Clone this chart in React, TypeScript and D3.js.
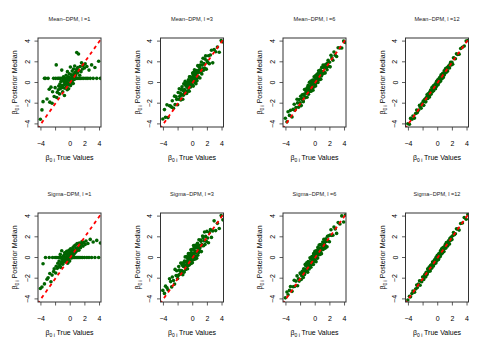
import React from 'react';
import * as d3 from 'd3';

// true beta_0i values (shared by all panels)
const trueValues = [
  -4.08, -3.86, -3.71, -3.52, -3.38, -3.17, -3.02, -2.87, -2.79, -2.63,
  -2.48, -2.41, -2.27, -2.19, -2.06, -1.98, -1.91, -1.84, -1.77, -1.69,
  -1.63, -1.57, -1.52, -1.46, -1.41, -1.36, -1.31, -1.27, -1.22, -1.16,
  -1.12, -1.07, -1.03, -0.99, -0.96, -0.92, -0.87, -0.83, -0.79, -0.76,
  -0.71, -0.67, -0.63, -0.59, -0.56, -0.52, -0.48, -0.45, -0.41, -0.38,
  -0.35, -0.31, -0.28, -0.25, -0.22, -0.18, -0.15, -0.12, -0.08, -0.05,
  -0.02, 0.02, 0.05, 0.08, 0.11, 0.14, 0.18, 0.21, 0.24, 0.27,
  0.31, 0.34, 0.37, 0.41, 0.44, 0.47, 0.51, 0.54, 0.58, 0.61,
  0.65, 0.69, 0.72, 0.76, 0.81, 0.85, 0.89, 0.94, 0.98, 1.03,
  1.08, 1.13, 1.18, 1.24, 1.29, 1.35, 1.41, 1.47, 1.54, 1.61,
  1.68, 1.76, 1.85, 1.94, 2.04, 2.15, 2.27, 2.41, 2.56, 2.73,
  2.92, 3.13, 3.37, 3.62, 3.88, 4.12,
];

// posterior medians, one array per panel
const meanL1 = [
  -3.55, -2.65, -1.85, 0.40, 0.40, -1.60, 0.40, -0.65, -1.90, -0.45,
  -2.00, -0.90, 0.40, -1.35, -0.50, 0.40, 1.70, -1.45, -0.95, 0.40,
  -0.70, -0.35, 0.40, -1.10, -0.15, -0.60, 0.40, 0.10, -0.45, 1.20,
  -0.30, 0.40, -0.90, 0.15, -0.50, 0.55, 0.40, -0.20, -1.25, 0.05,
  -0.55, 0.30, 0.40, -0.10, 0.70, -0.40, 0.20, 0.40, -0.70, 1.05,
  0.00, -0.25, 0.40, 0.55, -0.60, 0.25, 0.40, 0.85, -0.15, 0.35,
  0.40, 1.50, -0.30, 0.10, 0.40, 0.75, -0.05, 0.50, 0.40, 1.10,
  0.20, 0.65, 0.40, -0.10, 1.30, 0.40, 0.85, 0.30, 0.40, 1.60,
  0.55, 0.40, 1.00, 0.75, 0.40, 1.25, 2.90, 0.40, 0.95, 1.45,
  0.40, 2.75, 1.15, 0.40, 0.70, 1.55, 0.40, 1.05, 1.90, 0.40,
  1.30, 1.65, 0.40, 1.40, 1.80, 0.40, 1.55, 0.40, 1.20, 0.40,
  1.70, 0.40, 1.45, 0.40, 2.05, 0.40,
];
const meanL3 = [
  -3.53, -2.62, -3.36, -2.16, -3.39, -2.25, -2.28, -2.39, -1.76, -2.49,
  -1.32, -2.14, -1.38, -1.63, -2.15, -0.96, -1.62, -0.60, -1.34, -1.03,
  -1.69, -0.68, -1.20, -0.42, -0.70, -1.62, -0.77, -1.22, -0.13, -1.04,
  -0.69, -0.16, 0.11, -0.81, -1.02, -0.35, -0.07, -1.07, -0.32, -0.05,
  -0.48, -0.85, -0.01, 0.26, -0.59, -0.16, -0.84, 0.54, 0.10, -0.35,
  0.55, -0.05, -0.43, 0.48, 0.19, -0.10, 0.49, 0.03, 0.47, -0.22,
  0.92, 0.24, 0.74, -0.35, 0.48, 0.98, 0.14, 0.32, 1.23, 0.70,
  0.01, 0.92, 0.39, 1.14, -0.11, 0.71, 1.15, 0.38, 0.17, 1.08,
  0.95, 1.63, 0.61, 0.49, 1.57, 1.21, 1.00, 1.45, 0.44, 1.69,
  1.25, 1.05, 1.98, 0.83, 1.68, 1.33, 2.34, 1.19, 1.82, 1.40,
  2.26, 2.57, 1.29, 2.09, 1.94, 2.59, 1.82, 2.66, 3.11, 1.90,
  3.19, 2.97, 3.43, 2.93, 4.05, 3.93,
];
const meanL6 = [
  -3.46, -3.80, -2.82, -3.18, -2.69, -3.34, -2.60, -2.10, -2.68, -2.42,
  -1.62, -1.97, -2.38, -1.65, -1.95, -1.33, -2.23, -1.56, -1.20, -1.72,
  -1.85, -1.13, -1.20, -0.67, -1.40, -1.47, -0.65, -0.91, -1.04, -0.69,
  -1.43, -0.49, -0.81, -0.95, -0.26, -1.13, -0.48, -0.74, 0.02, -0.86,
  -0.39, -0.71, -0.08, 0.14, -0.85, -0.27, -0.42, 0.03, -0.59, -0.02,
  0.24, -0.74, 0.13, -0.14, 0.07, -0.44, 0.55, 0.04, -0.10, 0.46,
  -0.17, 0.65, -0.34, 0.40, 0.31, 0.16, 0.62, -0.01, 0.79, 0.16,
  0.68, 0.47, 0.01, 0.89, 0.38, 1.13, 0.56, 0.77, 0.27, 1.02,
  0.63, 1.21, 1.00, 0.32, 0.96, 0.64, 1.46, 0.78, 1.06, 1.47,
  1.69, 1.02, 0.89, 1.42, 1.65, 0.93, 1.52, 1.76, 1.46, 1.23,
  1.89, 2.15, 1.57, 1.95, 1.51, 2.63, 2.38, 2.15, 2.95, 2.63,
  2.51, 3.36, 3.34, 3.34, 4.00, 3.86,
];
const meanL12 = [
  -3.99, -4.04, -3.47, -3.55, -3.23, -3.44, -2.99, -2.66, -2.91, -2.69,
  -2.21, -2.35, -2.48, -2.07, -2.15, -1.80, -2.21, -1.84, -1.62, -1.84,
  -1.87, -1.48, -1.49, -1.19, -1.53, -1.54, -1.10, -1.21, -1.25, -1.04,
  -1.39, -0.89, -1.03, -1.08, -0.72, -1.13, -0.78, -0.89, -0.49, -0.91,
  -0.65, -0.79, -0.45, -0.32, -0.80, -0.49, -0.54, -0.30, -0.59, -0.29,
  -0.14, -0.61, -0.16, -0.28, -0.16, -0.39, 0.12, -0.12, -0.17, 0.13,
  -0.17, 0.26, -0.22, 0.17, 0.14, 0.08, 0.33, 0.03, 0.45, 0.15,
  0.43, 0.34, 0.13, 0.59, 0.35, 0.74, 0.48, 0.60, 0.37, 0.76,
  0.59, 0.90, 0.81, 0.49, 0.84, 0.70, 1.13, 0.82, 0.98, 1.21,
  1.35, 1.04, 1.00, 1.30, 1.44, 1.11, 1.44, 1.59, 1.48, 1.40,
  1.77, 1.94, 1.70, 1.94, 1.77, 2.39, 2.33, 2.29, 2.77, 2.70,
  2.74, 3.28, 3.40, 3.53, 4.00, 4.06,
];
const sigmaL1 = [
  -3.00, -2.85, -0.60, -2.55, 0.00, -2.10, -1.95, 0.00, -1.55, -2.35,
  -1.70, 0.00, -1.35, -1.10, 0.00, -1.50, -0.85, 0.00, -1.05, -0.55,
  0.00, -0.90, -0.35, 0.00, -0.70, 0.30, -0.95, 0.00, -0.50, 0.65,
  -0.20, 0.00, -0.65, 0.10, 0.00, -0.45, 0.20, 0.00, -0.30, 0.45,
  -0.10, 0.00, 0.35, -0.40, 0.05, 0.00, 0.60, -0.25, 0.25, 0.00,
  -0.55, 0.40, 0.00, 0.15, -0.15, 0.70, 0.00, 0.30, -0.35, 0.50,
  0.00, 0.10, 0.85, 0.35, 0.00, -0.05, 0.55, 0.25, 0.00, 0.75,
  0.40, 0.00, 0.95, 0.15, 0.60, 0.00, 0.35, 1.10, 0.00, 0.70,
  0.45, 0.00, 1.20, 0.55, 0.90, 0.00, 0.65, 1.35, 0.00, 0.85,
  1.00, 0.00, 0.70, 1.40, 0.00, 1.15, 0.95, 0.00, 1.30, 1.55,
  0.00, 1.10, 1.45, 0.00, 1.25, 1.60, 0.00, 1.35, 0.00, 1.75,
  0.00, 1.50, 0.00, 1.65, 0.00, 1.40,
];
const sigmaL3 = [
  -3.18, -3.47, -2.77, -2.93, -3.12, -2.06, -2.33, -2.84, -1.89, -2.22,
  -2.57, -1.15, -1.75, -1.28, -2.04, -1.73, -0.87, -1.21, -1.63, -1.32,
  -0.54, -1.53, -1.25, -0.55, -0.75, -1.67, -1.38, -0.87, -0.50, -1.41,
  -0.34, -0.77, 0.06, -0.86, -1.15, -0.40, -0.92, 0.08, -0.61, -0.34,
  -1.09, -0.10, -0.78, 0.37, -0.24, -0.53, 0.15, -0.71, 0.37, -0.48,
  0.10, -0.10, -0.24, 0.75, -0.58, 0.49, -0.36, 0.38, 0.18, -0.51,
  0.79, 0.11, 0.37, 0.00, 1.15, -0.19, 0.17, 0.91, 0.06, 0.65,
  0.44, 1.19, -0.14, 0.13, 0.96, 0.50, 1.10, -0.07, 0.92, 0.55,
  1.38, 0.22, 1.12, 0.92, 0.48, 1.72, 0.71, 1.16, 0.95, 0.60,
  1.68, 1.56, 0.57, 1.26, 1.15, 2.08, 1.89, 1.14, 1.61, 2.47,
  1.25, 2.04, 1.56, 2.52, 1.89, 1.42, 2.41, 2.69, 1.94, 2.57,
  3.54, 2.60, 3.30, 2.80, 4.05, 3.64,
];
const sigmaL6 = [
  -3.90, -3.33, -3.60, -3.18, -2.81, -3.27, -2.83, -2.21, -2.79, -2.28,
  -1.78, -2.73, -2.06, -2.28, -1.50, -1.60, -2.13, -1.77, -1.34, -1.45,
  -1.93, -1.09, -1.22, -1.65, -1.42, -0.65, -0.78, -1.11, -1.30, -0.52,
  -1.26, -0.86, -1.42, -0.66, -0.39, -0.89, -0.43, -1.11, -0.53, -0.68,
  -0.03, -0.72, -0.14, -0.94, -0.43, -0.15, -0.60, 0.09, -0.65, 0.04,
  -0.35, -0.13, 0.01, -0.68, 0.37, -0.37, 0.32, -0.19, 0.02, 0.59,
  -0.34, 0.24, 0.09, 0.42, -0.40, 0.65, 0.45, -0.06, 0.63, 0.24,
  0.45, -0.06, 0.99, 0.85, 0.28, 0.67, 0.28, 1.21, 0.53, 0.86,
  0.30, 1.24, 0.60, 0.82, 1.23, 0.37, 1.19, 0.93, 1.15, 1.50,
  0.77, 0.93, 1.76, 1.34, 1.51, 0.90, 1.14, 1.80, 1.56, 1.03,
  2.06, 1.59, 2.10, 1.52, 2.16, 2.68, 2.14, 2.15, 2.95, 2.75,
  2.33, 3.37, 3.24, 4.02, 3.43, 4.10,
];
const sigmaL12 = [
  -4.10, -3.74, -3.80, -3.49, -3.23, -3.35, -3.05, -2.66, -2.91, -2.57,
  -2.24, -2.68, -2.27, -2.34, -1.88, -1.89, -2.12, -1.90, -1.65, -1.66,
  -1.87, -1.42, -1.46, -1.64, -1.50, -1.09, -1.13, -1.27, -1.34, -0.92,
  -1.27, -1.04, -1.30, -0.90, -0.75, -0.98, -0.72, -1.04, -0.73, -0.79,
  -0.44, -0.76, -0.45, -0.83, -0.56, -0.40, -0.60, -0.24, -0.59, -0.23,
  -0.41, -0.28, -0.19, -0.52, 0.02, -0.33, 0.03, -0.21, -0.08, 0.22,
  -0.23, 0.08, 0.02, 0.20, -0.19, 0.35, 0.27, 0.03, 0.39, 0.21,
  0.34, 0.10, 0.64, 0.59, 0.32, 0.53, 0.36, 0.84, 0.52, 0.70,
  0.44, 0.93, 0.63, 0.76, 0.99, 0.58, 1.01, 0.91, 1.04, 1.24,
  0.90, 1.01, 1.45, 1.27, 1.38, 1.11, 1.26, 1.62, 1.54, 1.31,
  1.86, 1.67, 1.97, 1.73, 2.10, 2.42, 2.21, 2.29, 2.77, 2.76,
  2.65, 3.28, 3.34, 3.86, 3.70, 4.15,
];

const titles = [
  "Mean\u2212DPM, l =1", "Mean\u2212DPM, l =3", "Mean\u2212DPM, l =6", "Mean\u2212DPM, l =12",
  "Sigma\u2212DPM, l =1", "Sigma\u2212DPM, l =3", "Sigma\u2212DPM, l =6", "Sigma\u2212DPM, l =12",
];
const panelSeries = [meanL1, meanL3, meanL6, meanL12, sigmaL1, sigmaL3, sigmaL6, sigmaL12];
const axisTicks = [-4, -2, 0, 2, 4];
const xTickLabels = [-4, 0, 2, 4];
const yTickLabels = [-4, -2, 0, 2, 4];

const W = 490;
const H = 350;
const cellW = W / 4;
const cellH = H / 2;
const plot = { left: 38, right: 101, top: 38, bottom: 127 };
const font = "'Liberation Sans', Arial, Helvetica, sans-serif";

const fmt = (v: number) => (v < 0 ? "\u2212" + Math.abs(v) : String(v));

const Beta = () => (
  <>
    β<tspan fontSize="5" dy="2">0 i</tspan><tspan dy="-2"> </tspan>
  </>
);

const Panel = ({ idx }: { idx: number }) => {
  const col = idx % 4;
  const row = Math.floor(idx / 4);
  const ys = panelSeries[idx];
  const x = d3.scaleLinear().domain([-4.4, 4.2]).range([plot.left, plot.right]);
  const y = d3.scaleLinear().domain([-4.3, 4.3]).range([plot.bottom, plot.top]);
  const cx = (plot.left + plot.right) / 2;
  const cy = (plot.top + plot.bottom) / 2;
  const clipId = `clip-${idx}`;
  return (
    <g transform={`translate(${col * cellW},${row * cellH})`}>
      <defs>
        <clipPath id={clipId}>
          <rect x={plot.left} y={plot.top} width={plot.right - plot.left} height={plot.bottom - plot.top} />
        </clipPath>
      </defs>
      <text x={cx} y={21} textAnchor="middle" fontSize="5.6" fill="#222">{titles[idx]}</text>
      <g clipPath={`url(#${clipId})`}>
        {trueValues.map((tv, i) => (
          <circle key={i} cx={x(tv)} cy={y(ys[i])} r={1.8} fill="#006400" />
        ))}
        <line x1={x(-10)} y1={y(-10)} x2={x(10)} y2={y(10)} stroke="#ff0000" strokeWidth={1.8} strokeDasharray="3.5,3.5" />
      </g>
      <rect x={plot.left} y={plot.top} width={plot.right - plot.left} height={plot.bottom - plot.top}
        fill="none" stroke="#333" strokeWidth={1} />
      {/* x axis */}
      {axisTicks.map(t => (
        <line key={`xt${t}`} x1={x(t)} x2={x(t)} y1={plot.bottom} y2={plot.bottom + 3.5} stroke="#333" strokeWidth={0.8} />
      ))}
      {xTickLabels.map(t => (
        <text key={`xl${t}`} x={x(t)} y={146} textAnchor="middle" fontSize="7">{fmt(t)}</text>
      ))}
      {/* y axis */}
      {axisTicks.map(t => (
        <line key={`yt${t}`} x1={plot.left - 3.5} x2={plot.left} y1={y(t)} y2={y(t)} stroke="#333" strokeWidth={0.8} />
      ))}
      {yTickLabels.map(t => (
        <text key={`yl${t}`} x={30} y={y(t)} textAnchor="middle" fontSize="7"
          transform={`rotate(-90,30,${y(t)})`}>{fmt(t)}</text>
      ))}
      <text x={cx} y={160} textAnchor="middle" fontSize="7"><Beta />True Values</text>
      <text x={17} y={cy} textAnchor="middle" fontSize="7" transform={`rotate(-90,17,${cy})`}>
        <Beta />Posterior Median
      </text>
    </g>
  );
};

const App = () => (
  <svg width={W} height={H} style={{ position: 'absolute', left: 0, top: 0, background: '#fff' }}
    fontFamily={font}>
    {d3.range(8).map(i => <Panel key={i} idx={i} />)}
  </svg>
);

export default App;
